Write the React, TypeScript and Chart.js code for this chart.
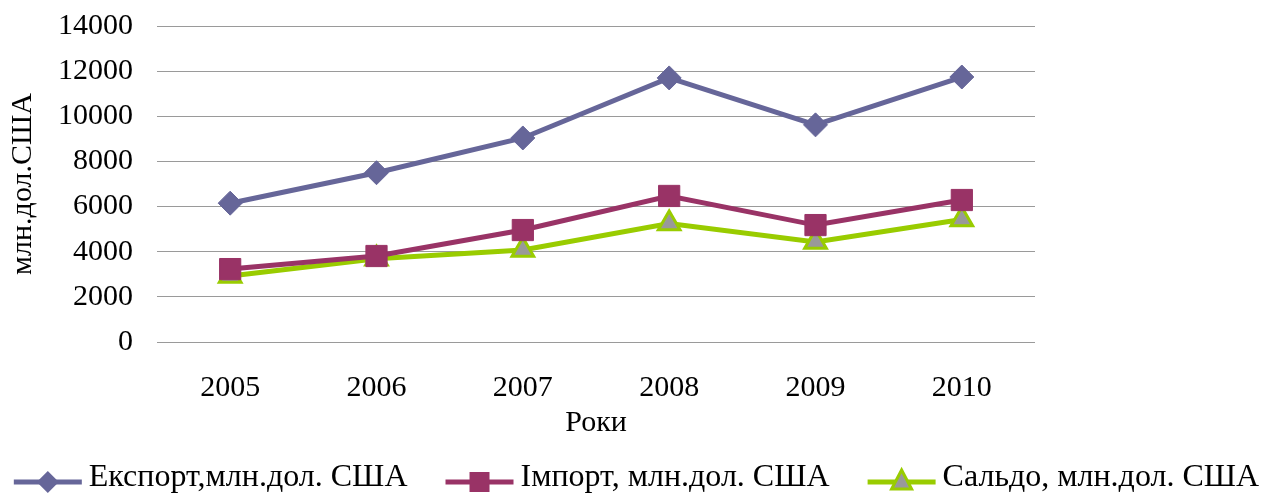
import React, { useEffect, useRef } from "react";
import { Chart, registerables } from "chart.js";

Chart.register(...registerables);

const years = ["2005", "2006", "2007", "2008", "2009", "2010"];
const exportValues = [6150, 7500, 9040, 11700, 9620, 11740];
const importValues = [3230, 3810, 4960, 6470, 5180, 6290];
const saldoValues = [2920, 3690, 4080, 5250, 4430, 5430];

const seriesNames = [
  "Експорт,млн.дол. США",
  "Імпорт, млн.дол. США",
  "Сальдо, млн.дол. США",
];
const yTitle = "млн.дол.США";
const xTitle = "Роки";

const FONT = "'Liberation Serif', 'Times New Roman', serif";

const lineLegendPlugin = {
  id: "lineLegend",
  afterDraw(chart: any) {
    const ctx = chart.ctx as CanvasRenderingContext2D;
    const iconW = 68;
    const iconGap = 7;
    const itemGap = 38;
    const centerY = 478;
    ctx.save();
    ctx.font = `32px ${FONT}`;
    const items = chart.data.datasets.map((ds: any) => ({
      ds,
      w: iconW + iconGap + ctx.measureText(ds.label).width,
    }));
    const total =
      items.reduce((a: number, it: any) => a + it.w, 0) + itemGap * (items.length - 1);
    let x = chart.width / 2 + 1 - total / 2;
    items.forEach((it: any) => {
      const ds = it.ds;
      const cy = centerY + 4;
      ctx.strokeStyle = ds.borderColor;
      ctx.lineWidth = 5;
      ctx.beginPath();
      ctx.moveTo(x, cy);
      ctx.lineTo(x + iconW, cy);
      ctx.stroke();
      const cx = x + iconW / 2;
      ctx.beginPath();
      if (ds.pointStyle === "rectRot") {
        ctx.moveTo(cx, cy - 11);
        ctx.lineTo(cx + 11, cy);
        ctx.lineTo(cx, cy + 11);
        ctx.lineTo(cx - 11, cy);
        ctx.closePath();
        ctx.fillStyle = ds.pointBackgroundColor;
        ctx.fill();
      } else if (ds.pointStyle === "rect") {
        ctx.rect(cx - 10, cy - 10, 20, 20);
        ctx.fillStyle = ds.pointBackgroundColor;
        ctx.fill();
      } else {
        ctx.moveTo(cx, cy - 12);
        ctx.lineTo(cx + 10, cy + 7);
        ctx.lineTo(cx - 10, cy + 7);
        ctx.closePath();
        ctx.fillStyle = ds.pointBackgroundColor;
        ctx.fill();
        ctx.lineWidth = 3;
        ctx.strokeStyle = ds.pointBorderColor;
        ctx.stroke();
      }
      ctx.fillStyle = "#000";
      ctx.textBaseline = "middle";
      ctx.textAlign = "left";
      ctx.fillText(ds.label, x + iconW + iconGap, centerY);
      x += it.w + itemGap;
    });
    ctx.restore();
  },
};

export default function App() {
  const ref = useRef<HTMLCanvasElement>(null);
  useEffect(() => {
    if (!ref.current) return;
    const chart = new Chart(ref.current, {
      type: "line",
      data: {
        labels: years,
        datasets: [
          {
            label: seriesNames[0],
            data: exportValues,
            borderColor: "#666699",
            backgroundColor: "#666699",
            borderWidth: 5,
            pointStyle: "rectRot",
            pointRadius: 12,
            pointBorderWidth: 1,
            pointBackgroundColor: "#666699",
            pointBorderColor: "#666699",
            tension: 0,
          },
          {
            label: seriesNames[1],
            data: importValues,
            borderColor: "#993366",
            backgroundColor: "#993366",
            borderWidth: 5,
            pointStyle: "rect",
            pointRadius: 15,
            pointBorderWidth: 1,
            pointBackgroundColor: "#993366",
            pointBorderColor: "#993366",
            tension: 0,
          },
          {
            label: seriesNames[2],
            data: saldoValues,
            borderColor: "#99CC00",
            backgroundColor: "#999999",
            borderWidth: 5,
            pointStyle: "triangle",
            pointRadius: 12.5,
            pointBorderWidth: 3,
            pointBackgroundColor: "#999999",
            pointBorderColor: "#99CC00",
            tension: 0,
          },
        ],
      },
      options: {
        animation: false,
        responsive: false,
        maintainAspectRatio: false,
        layout: { padding: { top: 26, left: 0, right: 0, bottom: 44 } },
        plugins: {
          tooltip: { enabled: false },
          legend: { display: false },
        },
        scales: {
          x: {
            offset: true,
            grid: { display: false, drawTicks: false },
            border: { display: false },
            ticks: {
              color: "#000",
              padding: 28,
              font: { family: FONT, size: 30 },
              maxRotation: 0,
            },
            title: {
              display: true,
              text: xTitle,
              color: "#000",
              font: { family: FONT, size: 30 },
              padding: { top: 0, bottom: 10 },
            },
            afterFit: (s: any) => {
              s.height = 109;
            },
          },
          y: {
            min: 0,
            max: 14000,
            grid: { color: "#9a9a9a", lineWidth: 1, drawTicks: false },
            border: { display: false },
            ticks: {
              stepSize: 2000,
              color: "#000",
              padding: 24,
              font: { family: FONT, size: 30 },
              callback: (v: any) => String(v),
            },
            title: {
              display: true,
              text: yTitle,
              color: "#000",
              font: { family: FONT, size: 30 },
              padding: { top: 5, bottom: 0 },
            },
            afterFit: (s: any) => {
              s.width = 157;
              s.paddingTop = 0;
              s.paddingBottom = 0;
            },
          },
          y2: {
            position: "right",
            display: true,
            grid: { display: false, drawTicks: false },
            border: { display: false },
            ticks: { display: false },
            afterFit: (s: any) => {
              s.width = 236;
              s.paddingTop = 0;
              s.paddingBottom = 0;
            },
          },
        },
      },
      plugins: [lineLegendPlugin],
    } as any);
    return () => chart.destroy();
  }, []);
  return (
    <div style={{ position: "fixed", left: 0, top: 0, width: 1271, height: 495 }}>
      <canvas ref={ref} width={1271} height={495} style={{ width: 1271, height: 495 }} />
    </div>
  );
}
